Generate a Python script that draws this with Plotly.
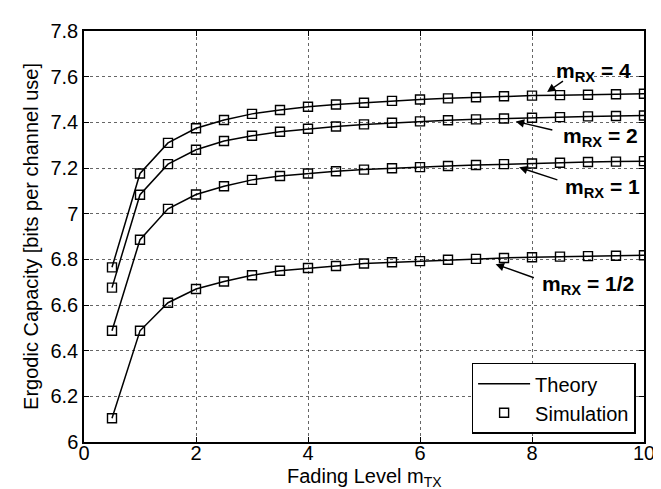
import plotly.graph_objects as go

fading_tx = [0.5, 1, 1.5, 2, 2.5, 3, 3.5, 4, 4.5, 5, 5.5, 6, 6.5, 7, 7.5, 8, 8.5, 9, 9.5, 10]

cap_rx_4 = [6.765, 7.176, 7.310, 7.374, 7.410, 7.437, 7.454, 7.468, 7.478, 7.486,
            7.494, 7.500, 7.505, 7.510, 7.514, 7.517, 7.519, 7.521, 7.523, 7.525]
cap_rx_2 = [6.676, 7.083, 7.217, 7.280, 7.318, 7.341, 7.359, 7.372, 7.382, 7.391,
            7.398, 7.404, 7.409, 7.413, 7.417, 7.420, 7.423, 7.426, 7.428, 7.430]
cap_rx_1 = [6.487, 6.886, 7.021, 7.084, 7.120, 7.148, 7.165, 7.176, 7.186, 7.193,
            7.199, 7.204, 7.209, 7.213, 7.217, 7.220, 7.223, 7.226, 7.228, 7.230]
cap_rx_half = [6.104, 6.487, 6.610, 6.670, 6.703, 6.730, 6.750, 6.762, 6.771, 6.782,
               6.787, 6.792, 6.798, 6.802, 6.806, 6.809, 6.812, 6.814, 6.816, 6.818]

series = [cap_rx_4, cap_rx_2, cap_rx_1, cap_rx_half]

x_ticks = [0, 2, 4, 6, 8, 10]
y_ticks = [6, 6.2, 6.4, 6.6, 6.8, 7, 7.2, 7.4, 7.6, 7.8]
y_tick_text = ["6", "6.2", "6.4", "6.6", "6.8", "7", "7.2", "7.4", "7.6", "7.8"]

x_title = "Fading Level m<sub>TX</sub>"
y_title = "Ergodic Capacity [bits per channel use]"

# label texts, arrow tips / tails, text anchors (data coords)
labels = ["m<sub>RX</sub> = 4", "m<sub>RX</sub> = 2", "m<sub>RX</sub> = 1", "m<sub>RX</sub> = 1/2"]
arrow_tip_x = [8.27, 7.71, 7.77, 7.35]
arrow_tip_y = [7.533, 7.404, 7.203, 6.779]
arrow_tail_x = [8.58, 8.39, 8.48, 8.06]
arrow_tail_y = [7.585, 7.365, 7.146, 6.717]
label_x = [8.40, 8.52, 8.56, 8.14]
label_y = [7.62, 7.336, 7.113, 6.688]

FONT = "Liberation Sans, Arial, Helvetica, sans-serif"

fig = go.Figure()

for i, ys in enumerate(series):
    fig.add_trace(go.Scatter(
        x=fading_tx, y=ys, mode="lines",
        line=dict(color="black", width=1.5),
        name="Theory", showlegend=(i == 0), legendrank=1,
    ))
for i, ys in enumerate(series):
    fig.add_trace(go.Scatter(
        x=fading_tx, y=ys, mode="markers",
        marker=dict(symbol="square-open", size=9, color="black",
                    line=dict(color="black", width=1.4)),
        name="Simulation", showlegend=(i == 0), legendrank=2,
    ))

annotations = []
for i in range(len(labels)):
    annotations.append(dict(
        x=arrow_tip_x[i], y=arrow_tip_y[i], xref="x", yref="y",
        ax=arrow_tail_x[i], ay=arrow_tail_y[i], axref="x", ayref="y",
        text="", showarrow=True, arrowhead=2, arrowsize=1.2,
        arrowwidth=1.4, arrowcolor="black",
    ))
    annotations.append(dict(
        x=label_x[i], y=label_y[i], xref="x", yref="y",
        text="<b>" + labels[i] + "</b>", showarrow=False,
        xanchor="left", yanchor="middle",
        font=dict(family=FONT, size=21, color="black"),
    ))

# x-axis title as an annotation for exact vertical placement
annotations.append(dict(
    x=0.5, y=0, xref="paper", yref="paper",
    xanchor="center", yanchor="top", yshift=-20.5,
    text=x_title, showarrow=False,
    font=dict(family=FONT, size=20, color="black"),
))

axis_common = dict(
    showline=True, linecolor="black", linewidth=1.5, mirror="ticks",
    ticks="inside", ticklen=5, tickwidth=1, tickcolor="black",
    showgrid=True, gridcolor="rgba(0,0,0,0.6)", gridwidth=1, griddash="dot",
    zeroline=False,
    tickfont=dict(family=FONT, size=20, color="black"),
)

fig.update_xaxes(
    range=[0, 10], tickvals=x_ticks, ticklabelstandoff=-8,
    **axis_common,
)
fig.update_yaxes(
    range=[6, 7.8], tickvals=y_ticks, ticktext=y_tick_text,
    title=dict(text=y_title, standoff=6,
               font=dict(family=FONT, size=20, color="black")),
    **axis_common,
)

fig.update_layout(
    width=661, height=489,
    margin=dict(l=76, r=25, t=16, b=55),
    paper_bgcolor="white", plot_bgcolor="white",
    annotations=annotations,
    showlegend=True,
    legend=dict(
        x=0.985, y=0.02, xanchor="right", yanchor="bottom",
        bgcolor="white", bordercolor="black", borderwidth=1.5,
        font=dict(family=FONT, size=20, color="black"),
        tracegroupgap=0, itemwidth=52,
    ),
)

fig.write_html("out.html")
